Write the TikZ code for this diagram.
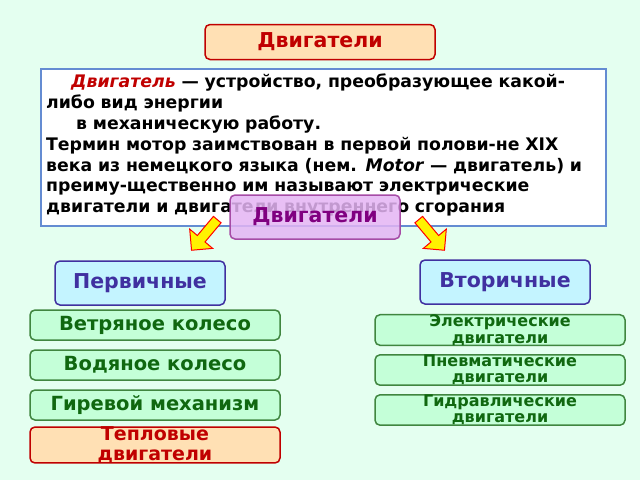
\documentclass[tikz,border=0pt]{standalone}
\usepackage{fontspec}
\setmainfont{DejaVu Sans}
\usetikzlibrary{shapes.arrows}
\definecolor{bg}{HTML}{E4FFF0}
\definecolor{peach}{HTML}{FFE0B4}
\definecolor{dred}{HTML}{C00000}
\definecolor{cyanf}{HTML}{C4F4FF}
\definecolor{indig}{HTML}{4030A0}
\definecolor{gfill}{HTML}{C4FFD8}
\definecolor{gdark}{HTML}{106810}
\definecolor{pfill}{HTML}{E4B4F4}
\definecolor{pdark}{HTML}{800080}
\tikzset{
 base/.style={rounded corners=5pt, line width=1.5pt, inner sep=0pt, font=\bfseries},
 peachbox/.style={base, fill=peach, draw=dred, text=dred},
 catbox/.style={base, fill=cyanf, draw=indig, text=indig, minimum width=170pt, minimum height=44pt, font=\bfseries\fontsize{20.5}{22}\selectfont},
 gbox/.style={base, fill=gfill, draw=gdark!80, text=gdark, minimum width=250pt, minimum height=30pt, font=\bfseries\fontsize{19.5}{21}\selectfont},
 rbox/.style={gbox, align=center, font=\bfseries\fontsize{16}{16.5}\selectfont},
 yarrow/.style={single arrow, fill=yellow, draw=red, line width=1pt, minimum height=40pt, minimum width=30pt, single arrow head extend=5pt, inner sep=2pt}
}
\begin{document}
\begin{tikzpicture}[x=1pt,y=-1pt]
\fill[bg] (0,0) rectangle (640,480);
\useasboundingbox (0,0) rectangle (640,480);
\node[peachbox, minimum width=230pt, minimum height=35pt, font=\bfseries\fontsize{20.5}{22}\selectfont] (title) at (320,42) {Двигатели};
\node[draw={rgb,255:red,100;green,140;blue,210}, fill=white, line width=1.5pt, minimum width=565pt, minimum height=157pt, anchor=north west, inner sep=0pt] (txt) at (40,68) {};
\node[anchor=north west, text width=562pt, align=left, inner sep=0pt, font=\bfseries\fontsize{17.3}{20.8}\selectfont] (body) at (46,74)
{\hspace*{25pt}\textcolor{dred}{\textit{Двигатель}} — устройство, преобразующее какой-\\либо вид энергии\\
\hspace*{30pt}в механическую работу.\\
Термин мотор заимствован в первой полови-не XIX\\
века из немецкого языка (нем. \textit{Motor} — двигатель) и\\
преиму-щественно им называют электрические\\
двигатели и двигатели внутреннего сгорания};
\node[base, fill=pfill, fill opacity=0.85, text opacity=1, draw=pdark!70, text=pdark, minimum width=170pt, minimum height=44pt, font=\bfseries\fontsize{20.5}{22}\selectfont] (mid) at (315,217) {Двигатели};
\node[catbox] (prim) at (140,283) {Первичные};
\node[catbox] (sec) at (505,282) {Вторичные};
\node[yarrow, rotate=-130] (al) at (206,233) {};
\node[yarrow, rotate=-50] (ar) at (430,233) {};
\node[gbox] (g1) at (155,325) {Ветряное колесо};
\node[gbox] (g2) at (155,365) {Водяное колесо};
\node[gbox] (g3) at (155,405) {Гиревой механизм};
\node[peachbox, minimum width=250pt, minimum height=30pt, align=center, font=\bfseries\fontsize{19}{19.5}\selectfont] (g4) at (155,445) {Тепловые\\двигатели};
\node[rbox] (r1) at (500,330) {Электрические\\двигатели};
\node[rbox] (r2) at (500,370) {Пневматические\\двигатели};
\node[rbox] (r3) at (500,410) {Гидравлические\\двигатели};
\end{tikzpicture}
\end{document}
